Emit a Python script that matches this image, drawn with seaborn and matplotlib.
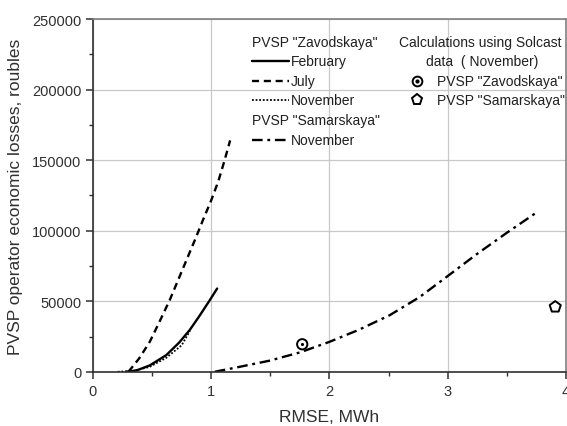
import pandas as pd
import seaborn as sns
import matplotlib.pyplot as plt
from matplotlib.lines import Line2D

# Zavodskaya curves
feb_x = [0.28, 0.37, 0.48, 0.62, 0.73, 0.82, 0.90, 0.99, 1.05]
feb_y = [0, 1000, 4500, 11800, 20800, 29800, 39500, 51000, 59000]

jul_x = [0.30, 0.39, 0.48, 0.56, 0.65, 0.73, 0.80, 0.87, 0.93, 1.00, 1.06, 1.11, 1.16]
jul_y = [0, 9400, 21200, 35000, 51000, 67000, 81000, 95000, 107500, 121500,
         135000, 149000, 164000]

nov_x = [0.21, 0.34, 0.48, 0.62, 0.75, 0.82]
nov_y = [0, 600, 3500, 9900, 18800, 29000]

# Samarskaya curve
sam_x = [1.03, 1.24, 1.49, 1.75, 2.00, 2.25, 2.51, 2.76, 3.00, 3.24, 3.49, 3.75]
sam_y = [0, 3500, 7800, 13700, 21200, 29800, 40100, 52800, 67800, 83000, 97900, 112800]

# Solcast points (November)
solcast_zav = (1.77, 19500)
solcast_sam = (3.91, 46000)

FONT = "Liberation Sans"


def make_chart():
    fig, ax = plt.subplots(figsize=(5.67, 4.27), dpi=100)
    fig.subplots_adjust(left=0.164, right=0.998, bottom=0.127, top=0.953)

    lw = 1.7
    sns.lineplot(x=feb_x, y=feb_y, ax=ax, color="black", lw=lw, linestyle="-")
    sns.lineplot(x=jul_x, y=jul_y, ax=ax, color="black", lw=lw, linestyle=(0, (3, 2)))
    sns.lineplot(x=nov_x, y=nov_y, ax=ax, color="black", lw=1.3, linestyle=(0, (1, 1)))
    sns.lineplot(x=sam_x, y=sam_y, ax=ax, color="black", lw=lw,
                 linestyle=(0, (4.5, 2, 1.2, 2)))

    sns.scatterplot(x=[solcast_zav[0]], y=[solcast_zav[1]], ax=ax, marker="o",
                    s=55, facecolor="none", edgecolor="black", linewidth=1.4, zorder=5)
    sns.scatterplot(x=[solcast_zav[0]], y=[solcast_zav[1]], ax=ax, marker="o",
                    s=5, color="black", linewidth=0, zorder=6)
    sns.scatterplot(x=[solcast_sam[0]], y=[solcast_sam[1]], ax=ax, marker="p",
                    s=70, facecolor="none", edgecolor="black", linewidth=1.4, zorder=5)

    ax.set_xlim(0, 4)
    ax.set_ylim(0, 250000)
    ax.set_xticks([0, 1, 2, 3, 4])
    ax.set_xticks([0.5, 1.5, 2.5, 3.5], minor=True)
    ax.set_yticks([0, 50000, 100000, 150000, 200000, 250000])
    ax.set_yticks([25000, 75000, 125000, 175000, 225000], minor=True)
    ax.grid(True, which="major", color="#c8c8c8", lw=0.9)
    ax.set_axisbelow(True)

    for side in ["top", "right"]:
        ax.spines[side].set_color("#808080")
        ax.spines[side].set_linewidth(1.2)
    for side in ["left", "bottom"]:
        ax.spines[side].set_color("#303030")
        ax.spines[side].set_linewidth(1.2)

    ax.tick_params(which="both", bottom=True, left=True, direction="out")
    ax.tick_params(which="major", length=5, width=1.1, labelsize=10.5, color="#303030",
                   labelcolor="#303030")
    ax.tick_params(which="minor", length=3, width=1.0, color="#303030")

    ax.set_xlabel("RMSE, MWh", fontsize=12.5, color="#303030", labelpad=8)
    ax.set_ylabel("PVSP operator economic losses, roubles", fontsize=12.5,
                  color="#303030", labelpad=6)

    # legend block, left
    tx = ax.transAxes
    fs = 10.0
    def ay(py):
        return 1 - (py - 20) / 353.0
    def axx(px):
        return (px - 93) / 473.0

    ax.text(axx(252), ay(43), 'PVSP "Zavodskaya"', transform=tx, fontsize=fs,
            va="center", color="#202020")
    rows = [("February", "-", 1.7, 62), ("July", (0, (3, 2)), 1.7, 82),
            ("November", (0, (1, 1)), 1.3, 101)]
    for label, ls, w, py in rows:
        ax.add_line(Line2D([axx(252), axx(289)], [ay(py), ay(py)], transform=tx,
                           color="black", lw=w, linestyle=ls))
        ax.text(axx(291), ay(py), label, transform=tx, fontsize=fs, va="center",
                color="#202020")
    ax.text(axx(252), ay(121), 'PVSP "Samarskaya"', transform=tx, fontsize=fs,
            va="center", color="#202020")
    ax.add_line(Line2D([axx(252), axx(289)], [ay(141), ay(141)], transform=tx,
                       color="black", lw=1.7, linestyle=(0, (4.5, 2, 1.2, 2))))
    ax.text(axx(291), ay(141), "November", transform=tx, fontsize=fs, va="center",
            color="#202020")

    # legend block, right
    ax.text(axx(480), ay(43), "Calculations using Solcast", transform=tx,
            fontsize=fs, va="center", ha="center", color="#202020")
    ax.text(axx(482), ay(62), "data  ( November)", transform=tx, fontsize=fs,
            va="center", ha="center", color="#202020")
    ax.plot([axx(417)], [ay(82)], transform=tx, marker="o", ms=7, mfc="none",
            mec="black", mew=1.4, ls="none")
    ax.plot([axx(417)], [ay(82)], transform=tx, marker="o", ms=2, color="black",
            ls="none")
    ax.plot([axx(417)], [ay(101)], transform=tx, marker="p", ms=8, mfc="none",
            mec="black", mew=1.4, ls="none")
    ax.text(axx(437), ay(82), 'PVSP "Zavodskaya"', transform=tx, fontsize=fs,
            va="center", color="#202020")
    ax.text(axx(437), ay(101), 'PVSP "Samarskaya"', transform=tx, fontsize=fs,
            va="center", color="#202020")

    fig.savefig("out.png", dpi=100)
    plt.close(fig)


if __name__ == "__main__":
    sns.set_theme(style="white")
    plt.rcParams["font.family"] = [FONT, "DejaVu Sans"]
    make_chart()
